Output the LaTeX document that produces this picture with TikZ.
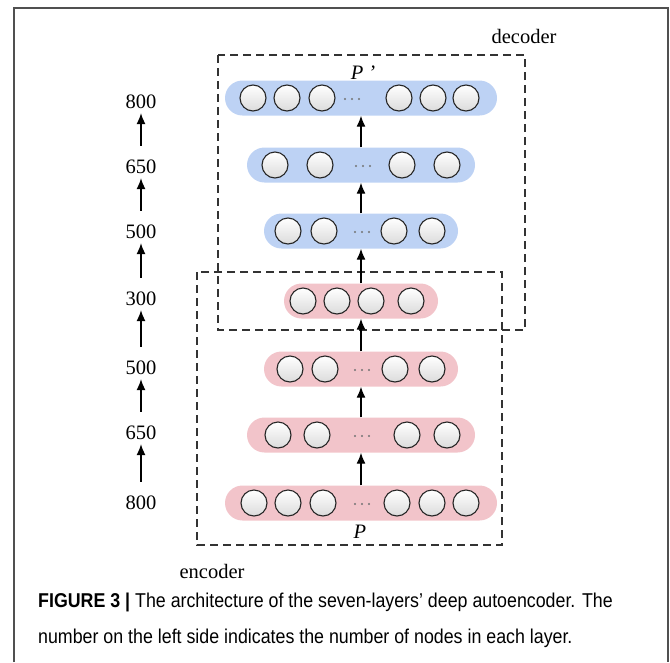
\documentclass[tikz,border=0pt]{standalone}
\usepackage{fontspec}
\setmainfont{Liberation Serif}
\newfontfamily\capfont[FakeStretch=0.89]{Liberation Sans}
\usetikzlibrary{arrows.meta}
\definecolor{barblue}{RGB}{189,210,244}
\definecolor{barpink}{RGB}{242,196,202}
\definecolor{frame}{RGB}{80,80,80}
\tikzset{
  bar/.style={draw=none, rounded corners=17.5pt, minimum height=35pt, inner sep=0pt},
  unit/.style={circle, draw=black!85, line width=1.1pt, minimum size=26pt, inner sep=0pt, top color=white, bottom color=black!14},
  arr/.style={line width=1.3pt, -{Latex[length=11pt,width=9pt]}},
  num/.style={font=\fontsize{20.5}{20.5}\selectfont, inner sep=0pt},
  lbl/.style={font=\fontsize{20.5}{20.5}\selectfont, inner sep=0pt},
  dbox/.style={dashed, dash pattern=on 8pt off 5pt, line width=1.1pt, draw=black!80},
  dotmark/.style={circle, fill=black!55, inner sep=0pt, minimum size=2.2pt},
}
\begin{document}
\begin{tikzpicture}[x=1pt,y=-1pt]
\useasboundingbox (0,0) rectangle (670,662);
% outer frame
\draw[frame, line width=1.4pt] (14,662) -- (14,8) -- (668,8) -- (668,662);
% dashed boxes
\draw[dbox] (218,55) rectangle (525,330);
\draw[dbox] (197,272) rectangle (502,545);
\node[lbl] (dec) at (524,36) {decoder};
\node[lbl] (enc) at (212,571) {encoder};
% layers
\node[bar, fill=barblue, minimum width=272pt] (L1) at (361,98) {};
\node[bar, fill=barblue, minimum width=228pt] (L2) at (361,165) {};
\node[bar, fill=barblue, minimum width=194pt] (L3) at (361,231) {};
\node[bar, fill=barpink, minimum width=154pt] (L4) at (361,301) {};
\node[bar, fill=barpink, minimum width=194pt] (L5) at (361,369) {};
\node[bar, fill=barpink, minimum width=228pt] (L6) at (361,435) {};
\node[bar, fill=barpink, minimum width=272pt] (L7) at (361,503) {};
% units
\foreach \x [count=\i] in {253,287,322,399,433,466} \node[unit] (a\i) at (\x,98) {};
\foreach \x [count=\i] in {275,320,402,447} \node[unit] (b\i) at (\x,165) {};
\foreach \x [count=\i] in {288,324,394,432} \node[unit] (c\i) at (\x,231) {};
\foreach \x [count=\i] in {303,337,371,411} \node[unit] (d\i) at (\x,301) {};
\foreach \x [count=\i] in {290,325,395,432} \node[unit] (e\i) at (\x,369) {};
\foreach \x [count=\i] in {278,317,407,447} \node[unit] (f\i) at (\x,435) {};
\foreach \x [count=\i] in {254,288,323,397,432,466} \node[unit] (g\i) at (\x,503) {};
% dots
\foreach \y/\c/\n in {98/352/A,165/363/B,231/362/C,369/362/E,435/362/F,503/362/G}
  \foreach \d [count=\k] in {-7,0,7} \node[dotmark] (dot\n\k) at (\c+\d,\y+1) {};
% labels P
\node[lbl] (Pp) at (363,73) {\textit{P} \textit{’}};
\node[lbl] (P) at (360,532) {\textit{P}};
% arrows between layers
\draw[arr] (L7.north) -- (L6.south);
\draw[arr] (L6.north) -- (L5.south);
\draw[arr] (L5.north) -- (L4.south);
\draw[arr] (L4.north) -- (L3.south);
\draw[arr] (L3.north) -- (L2.south);
\draw[arr] (L2.north) -- (L1.south);
% left numbers
\node[num] (n1) at (141,102) {800};
\node[num] (n2) at (141,167) {650};
\node[num] (n3) at (141,232) {500};
\node[num] (n4) at (141,299) {300};
\node[num] (n5) at (141,368) {500};
\node[num] (n6) at (141,433) {650};
\node[num] (n7) at (141,503) {800};
\foreach \a/\b in {n7/n6,n6/n5,n5/n4,n4/n3,n3/n2,n2/n1}
  \draw[arr, shorten <=14pt, shorten >=4pt] (\a.north) -- (\b.south);
% caption
\node[anchor=base west, inner sep=0pt, font=\capfont\fontsize{20}{20}\selectfont] (cap1) at (38,607)
  {\textbf{FIGURE 3 |} The architecture of the seven-layers’ deep autoencoder. The};
\node[anchor=base west, inner sep=0pt, font=\capfont\fontsize{20}{20}\selectfont] (cap2) at (38,643)
  {number on the left side indicates the number of nodes in each layer.};
\end{tikzpicture}
\end{document}
